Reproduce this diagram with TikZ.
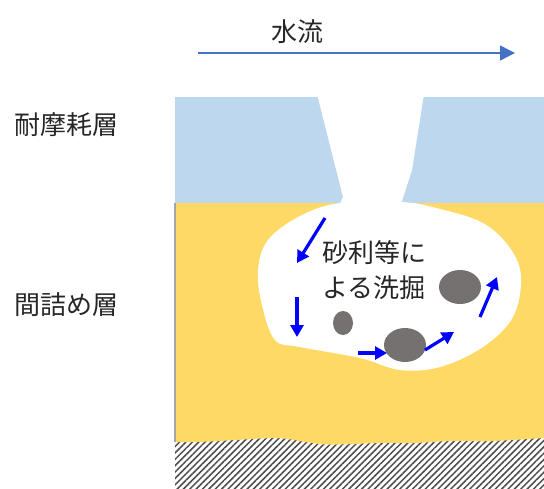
\documentclass[tikz,border=0pt]{standalone}
\usepackage{fontspec}
\setmainfont{Noto Sans CJK JP}
\usetikzlibrary{arrows.meta,patterns.meta}

\definecolor{wearblue}{RGB}{189,215,238}
\definecolor{fillyellow}{RGB}{255,217,102}
\definecolor{stonegray}{RGB}{118,113,113}
\definecolor{textgray}{RGB}{38,38,38}
\definecolor{flowblue}{RGB}{68,114,196}

\begin{document}
\begin{tikzpicture}[x=1pt,y=-1pt,
  label/.style = {text=textgray, font=\fontsize{26}{35}\selectfont, inner sep=0pt},
  stone/.style = {fill=stonegray},
  scour/.style = {blue, line width=3.2pt, -{Triangle[length=12pt,width=13pt]}}]
\useasboundingbox (0,0) rectangle (544,488);

% base layer (hatched)
\fill[pattern={Lines[angle=45,distance=4.5pt,line width=1.5pt]},pattern color=black!70]
  (175,430) rectangle (544,488);

% filling layer with wavy bottom
\fill[fillyellow] (175,203) -- (544,203) -- (544,438)
  .. controls (510,440) and (490,442) .. (470,441)
  .. controls (440,440) and (420,444) .. (403,443)
  .. controls (370,442) and (340,446) .. (320,444)
  .. controls (300,442) and (285,437) .. (270,438)
  .. controls (230,440) and (200,443) .. (175,442) -- cycle;
\draw[black!35, line width=1.5pt] (175,203) -- (175,442);

% wearing layer
\fill[wearblue] (175,97) rectangle (544,203);

% gap and scoured hole
\fill[white] (317,94) -- (424,94) -- (412,170) -- (401,204) -- (340,204) -- (343,197) -- cycle;
\fill[white] plot[smooth cycle, tension=0.6] coordinates {
  (340,203) (300,216) (268,240) (258,270) (262,305) (275,340) (300,347)
  (360,358) (400,370) (440,367) (483,347) (513,317) (521,277) (510,248)
  (483,223) (440,209) (402,202)};

% stones
\fill[stone] (460,287) ellipse (21pt and 17pt);
\fill[stone] (343,323) ellipse (10pt and 12pt);
\fill[stone] (405,345) ellipse (21pt and 17pt);

% movement of gravel
\draw[scour] (325,218) -- (297,263);
\draw[scour] (297,297) -- (297,337);
\draw[scour] (358,353) -- (387,353);
\draw[scour] (425,350) -- (454,332);
\draw[scour] (480,317) -- (497,277);

% labels
\node[label] (wear) at (67,125) {耐摩耗層};
\node[label] (fill) at (66,305) {間詰め層};
\node[label, align=left] (scourtxt) at (374,270) {砂利等に\\よる洗掘};
\node[label] (water) at (297,32) {水流};

\coordinate (flowstart) at (198,53);
\coordinate (flowend) at (515,53);
\draw[flowblue, line width=1.5pt, -{Triangle[length=15pt,width=15pt]}] (flowstart) -- (flowend);
\end{tikzpicture}
\end{document}
